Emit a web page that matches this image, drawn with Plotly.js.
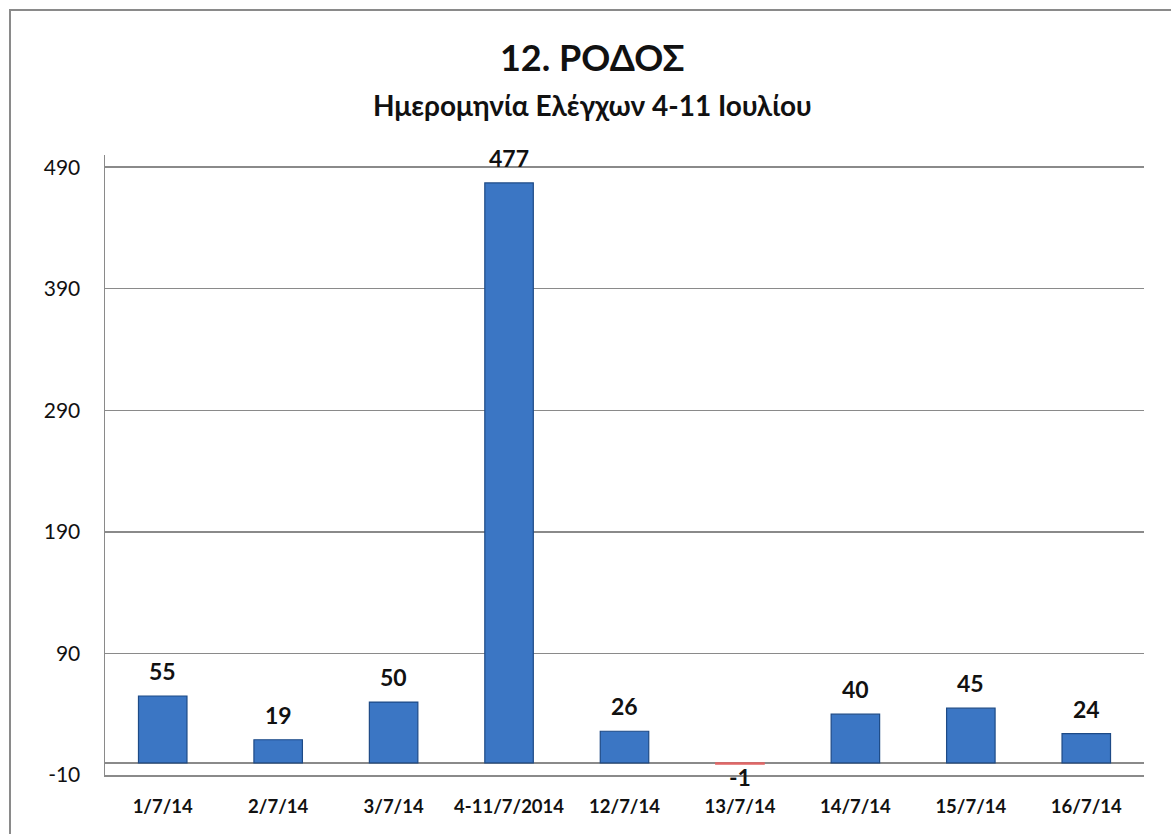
<!DOCTYPE html>
<html>
<head>
<meta charset="utf-8">
<script src="https://cdn.plot.ly/plotly-3.0.1.min.js"></script>
<style>html,body{margin:0;padding:0;background:#fff;}#chart{width:1171px;height:834px;}</style>
</head>
<body>
<div id="chart"></div>
<script>
const categories = ['1/7/14','2/7/14','3/7/14','4-11/7/2014','12/7/14','13/7/14','14/7/14','15/7/14','16/7/14'];
const values = [55, 19, 50, 477, 26, -1, 40, 45, 24];
const yTicks = [-10, 90, 190, 290, 390, 490];
const titleText = '12. ΡΟΔΟΣ';
const subtitleText = 'Ημερομηνία Ελέγχων 4-11 Ιουλίου';

const FONT = 'Lato, Carlito, "Open Sans", sans-serif';
const barColors = values.map(v => v < 0 ? '#e06666' : '#3b76c4');
const lineColors = values.map(v => v < 0 ? '#e06666' : '#1d4a86');

const trace = {
  type: 'bar',
  x: categories,
  y: values,
  width: 0.42,
  marker: {color: barColors, line: {color: lineColors, width: 1.2}},
  hoverinfo: 'x+y'
};

const labelAnnotations = categories.map((c, i) => ({
  x: c, y: values[i], xref: 'x', yref: 'y',
  text: '<b>' + values[i] + '</b>',
  showarrow: false,
  yanchor: values[i] < 0 ? 'top' : 'bottom',
  yshift: values[i] < 0 ? 3 : 9,
  font: {family: FONT, size: 23, color: '#111'}
}));

const layout = {
  width: 1171, height: 834,
  margin: {l: 105, r: 27, t: 155, b: 59},
  paper_bgcolor: '#fff', plot_bgcolor: '#fff',
  showlegend: false,
  title: {
    text: '<b>' + titleText + '</b>',
    x: 0.469, xanchor: 'center', xref: 'paper',
    y: 1 - 58/834, yanchor: 'middle', yref: 'container',
    font: {family: FONT, size: 36, color: '#111'}
  },
  xaxis: {
    type: 'category',
    showgrid: false,
    showline: true, linecolor: '#8a8a8a', linewidth: 1.5,
    ticks: '', ticklabelstandoff: 14,
    tickfont: {family: FONT, size: 18.5, color: '#111', weight: 'bold'},
    zeroline: false
  },
  yaxis: {
    range: [-10, 500],
    tickmode: 'array', tickvals: yTicks, ticktext: yTicks.map(String),
    showgrid: true, gridcolor: '#8a8a8a', gridwidth: 1.5,
    showline: true, linecolor: '#8a8a8a', linewidth: 1.5,
    zeroline: true, zerolinecolor: '#8a8a8a', zerolinewidth: 1.5,
    ticks: '', ticklabelstandoff: 19,
    tickfont: {family: FONT, size: 21, color: '#111'}
  },
  annotations: labelAnnotations.concat([{
    xref: 'paper', yref: 'paper', x: 0.469, y: (775 - 105) / 620,
    xanchor: 'center', yanchor: 'middle', showarrow: false,
    text: '<b>' + subtitleText + '</b>',
    font: {family: FONT, size: 28, color: '#111'}
  }]),
  shapes: [{
    type: 'rect', xref: 'paper', yref: 'paper',
    x0: (10 - 105) / 1039, x1: (1185 - 105) / 1039,
    y0: (775 - 850) / 620, y1: (775 - 10) / 620,
    line: {color: '#8a8a8a', width: 2}, fillcolor: 'rgba(0,0,0,0)', layer: 'below'
  }]
};

Plotly.newPlot('chart', [trace], layout, {displayModeBar: false, staticPlot: true});
</script>
</body>
</html>
